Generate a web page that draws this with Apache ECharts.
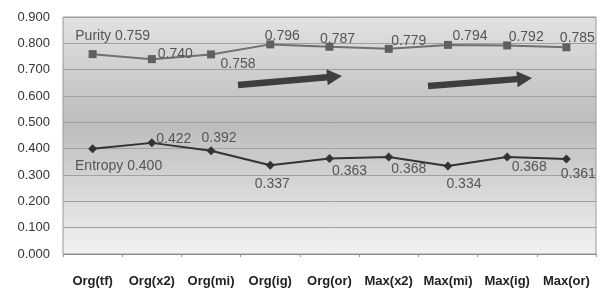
<!DOCTYPE html>
<html>
<head>
<meta charset="utf-8">
<script src="https://cdn.jsdelivr.net/npm/echarts@6/dist/echarts.min.js"></script>
<style>
  html, body { margin: 0; padding: 0; background: #fff; }
  #chart { width: 602px; height: 298px; }
</style>
</head>
<body>
<div id="chart"></div>
<script>
const categories = ['Org(tf)', 'Org(x2)', 'Org(mi)', 'Org(ig)', 'Org(or)', 'Max(x2)', 'Max(mi)', 'Max(ig)', 'Max(or)']
const purity = [0.759, 0.740, 0.758, 0.796, 0.787, 0.779, 0.794, 0.792, 0.785]
const entropy = [0.400, 0.422, 0.392, 0.337, 0.363, 0.368, 0.334, 0.368, 0.361]

// label placement per point
const purityLabelPos = [
  { position: 'top', offset: [20, -3] },
  { position: 'right', offset: [-2, -5] },
  { position: 'bottom', offset: [27, -5] },
  { position: 'top', offset: [12, 7] },
  { position: 'top', offset: [8, 7] },
  { position: 'top', offset: [20, 7] },
  { position: 'top', offset: [22, 6] },
  { position: 'top', offset: [19, 7] },
  { position: 'top', offset: [11, 6] },
]
const entropyLabelPos = [
  { position: 'bottom', offset: [26, 2] },
  { position: 'right', offset: [-4, -4] },
  { position: 'top', offset: [8, 3] },
  { position: 'bottom', offset: [2, 3] },
  { position: 'bottom', offset: [20, -3] },
  { position: 'bottom', offset: [20, -3] },
  { position: 'bottom', offset: [16, 3] },
  { position: 'bottom', offset: [22, -5] },
  { position: 'bottom', offset: [12, 0] },
]

function withLabels(values, placements, prefix) {
  return values.map((v, i) => ({
    value: v,
    label: {
      position: placements[i].position,
      offset: placements[i].offset,
      formatter: (i === 0 ? prefix + ' ' : '') + v.toFixed(3),
    },
  }))
}

const labelStyle = {
  show: true,
  color: '#555',
  fontSize: 14,
  fontFamily: 'Liberation Sans, Arial, sans-serif',
  distance: 4,
}

function arrow(x1, y1, x2, y2) {
  const dx = x2 - x1
  const dy = y2 - y1
  const len = Math.sqrt(dx * dx + dy * dy)
  const ux = dx / len
  const uy = dy / len
  const px = -uy
  const py = ux
  const head = 15
  const hw = 8
  const sw = 3.2
  const bx = x2 - ux * head
  const by = y2 - uy * head
  return {
    type: 'polygon',
    shape: {
      points: [
        [x1 + px * sw, y1 + py * sw],
        [bx + px * sw, by + py * sw],
        [bx + px * hw, by + py * hw],
        [x2, y2],
        [bx - px * hw, by - py * hw],
        [bx - px * sw, by - py * sw],
        [x1 - px * sw, y1 - py * sw],
      ],
    },
    style: { fill: '#3e3e3e' },
    z: 10,
  }
}

const chart = echarts.init(document.getElementById('chart'))
chart.setOption({
  animation: false,
  backgroundColor: '#fff',
  grid: {
    left: 63,
    right: 6,
    top: 17,
    bottom: 44,
    show: true,
    borderColor: '#9a9a9a',
    borderWidth: 1,
    backgroundColor: {
      type: 'linear', x: 0, y: 0, x2: 0, y2: 1,
      colorStops: [
        { offset: 0, color: '#e2e2e2' },
        { offset: 0.45, color: '#bcbcbc' },
        { offset: 0.75, color: '#dadada' },
        { offset: 1, color: '#f2f2f2' },
      ],
    },
  },
  xAxis: {
    type: 'category',
    data: categories,
    boundaryGap: true,
    axisLine: { lineStyle: { color: '#888' } },
    axisTick: { show: true, length: 3, lineStyle: { color: '#999' } },
    axisLabel: {
      interval: 0,
      hideOverlap: false,
      color: '#222',
      fontSize: 13,
      fontWeight: 'bold',
      margin: 21,
      fontFamily: 'Liberation Sans Narrow, Liberation Sans, Arial, sans-serif',
    },
  },
  yAxis: {
    type: 'value',
    min: 0,
    max: 0.9,
    interval: 0.1,
    axisLine: { show: false },
    axisTick: { show: false },
    axisLabel: {
      color: '#333',
      fontSize: 13,
      margin: 13,
      fontFamily: 'Liberation Sans, Arial, sans-serif',
      formatter: (v) => v.toFixed(3),
    },
    splitLine: { lineStyle: { color: '#a0a0a0', width: 1 } },
  },
  series: [
    {
      name: 'Purity',
      type: 'line',
      data: withLabels(purity, purityLabelPos, 'Purity'),
      symbol: 'rect',
      symbolSize: 8,
      lineStyle: { color: '#707070', width: 2 },
      itemStyle: { color: '#606060' },
      label: labelStyle,
    },
    {
      name: 'Entropy',
      type: 'line',
      data: withLabels(entropy, entropyLabelPos, 'Entropy'),
      symbol: 'diamond',
      symbolSize: 9,
      lineStyle: { color: '#333', width: 2 },
      itemStyle: { color: '#333' },
      label: labelStyle,
    },
  ],
  graphic: [
    arrow(238, 85, 342, 76),
    arrow(428, 86, 532, 78),
  ],
})
</script>
</body>
</html>
